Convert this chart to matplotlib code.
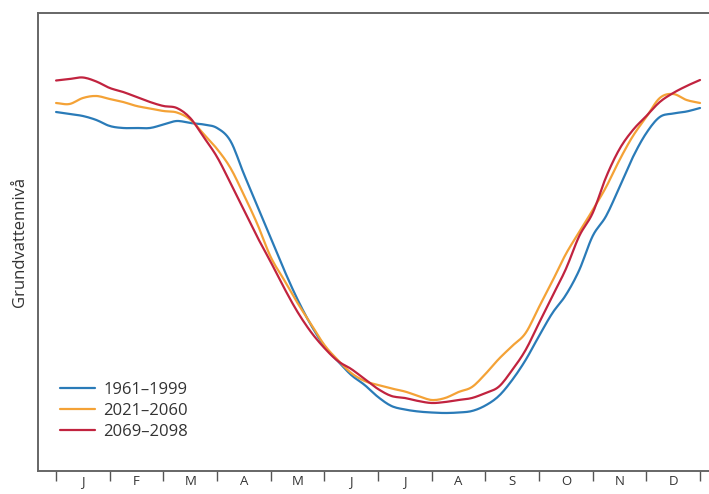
import numpy as np
import matplotlib
matplotlib.use("Agg")
import matplotlib.pyplot as plt

# x positions in months (0 = start of January, 12 = end of December)
months_x = np.arange(49) * 0.25
month_labels = ["J", "F", "M", "A", "M", "J", "J", "A", "S", "O", "N", "D"]
series_names = ["1961–1999", "2021–2060", "2069–2098"]
colors = ["#2a7bb8", "#f4a236", "#c1233f"]

# groundwater level (arbitrary units, higher = higher level)
level_1961_1999 = [359, 357, 355, 351, 345, 343, 343, 343, 346.5, 350, 348, 346.5,
                   343, 330, 297, 265, 233, 201, 171.5, 146, 125, 110, 96, 86,
                   74, 65, 61.5, 59.5, 58.5, 58, 58.5, 60, 65.5, 75, 91, 111,
                   135, 158, 176, 201, 235, 255, 284, 314, 338, 354, 357.5, 359.5, 363]
level_2021_2060 = [368, 367, 373, 375, 372, 369, 365, 362.5, 360, 358.5, 351.5, 337,
                   322, 303, 276, 247, 214, 191, 168, 147, 126, 111, 98, 90,
                   86, 82.5, 79.5, 75, 71, 73, 79, 84, 97, 112, 125, 138,
                   164, 190, 217, 239, 261, 284, 311, 335, 354, 373, 377, 371, 368]
level_2069_2098 = [390.5, 392, 393.5, 389.5, 383, 379, 374, 369, 365, 363, 353, 334,
                   314, 288, 261, 234, 209, 183, 159, 139, 123, 110, 102, 92,
                   82, 75, 73, 70, 68, 69, 71, 73, 78, 84.3, 101, 121,
                   148, 175, 202, 235, 258, 294, 322, 341, 355, 369, 378, 385, 391]


def smooth_curve(x, y, n=8):
    """Catmull-Rom spline through the points, for a smooth drawn line."""
    x = np.asarray(x, float)
    y = np.asarray(y, float)
    xp = np.concatenate([[2 * x[0] - x[1]], x, [2 * x[-1] - x[-2]]])
    yp = np.concatenate([[2 * y[0] - y[1]], y, [2 * y[-1] - y[-2]]])
    t = np.linspace(0, 1, n, endpoint=False)
    xs, ys = [], []
    for i in range(1, len(xp) - 2):
        for arr, out in ((xp, xs), (yp, ys)):
            p0, p1, p2, p3 = arr[i - 1], arr[i], arr[i + 1], arr[i + 2]
            out.append(0.5 * ((2 * p1) + (-p0 + p2) * t + (2 * p0 - 5 * p1 + 4 * p2 - p3) * t ** 2
                              + (-p0 + 3 * p1 - 3 * p2 + p3) * t ** 3))
    xs.append([x[-1]])
    ys.append([y[-1]])
    return np.concatenate(xs), np.concatenate(ys)


fig = plt.figure(figsize=(7.09, 4.94), dpi=100)
ax = fig.add_axes([38 / 709, 23 / 494, 1 - 38 / 709 + 0.01, (471 - 13) / 494])

for vals, name, c in zip([level_1961_1999, level_2021_2060, level_2069_2098], series_names, colors):
    sx, sy = smooth_curve(months_x, vals)
    ax.plot(sx, sy, color=c, lw=1.6, label=name, solid_capstyle="round")

ax.set_xlim(-18 / 53.42, 12 + 16 / 53.42)
ax.set_ylim(0, 458)

for s in ["left", "top", "bottom"]:
    ax.spines[s].set_color("#666666")
    ax.spines[s].set_linewidth(1.4)
ax.spines["right"].set_visible(False)

ax.set_xticks(np.arange(13))
ax.set_xticklabels([])
ax.tick_params(axis="x", which="major", direction="out", length=7, width=1.0, color="#555555")
ax.set_xticks(np.arange(12) + 0.5, minor=True)
ax.set_xticklabels(month_labels, minor=True, fontsize=9.5, family="Open Sans", color="#333333")
ax.tick_params(axis="x", which="minor", length=0, pad=3)
ax.set_yticks([])

ax.set_ylabel("Grundvattennivå", fontsize=12, family="Open Sans", color="#333333", labelpad=7)

leg = ax.legend(loc="lower left", bbox_to_anchor=(0.01, 0.035), frameon=False,
                prop={"family": "Open Sans", "size": 12}, handlelength=2.1,
                handletextpad=0.5, labelspacing=0.3, labelcolor="#333333")

fig.savefig("out.png", dpi=100)
